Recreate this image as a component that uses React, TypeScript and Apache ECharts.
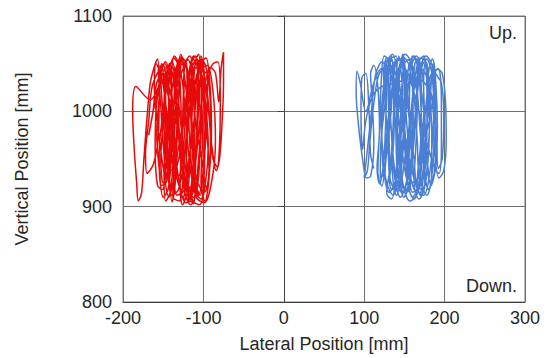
import React, { useEffect, useRef } from "react";
import * as echarts from "echarts";

const xTicks = [-200, 300, 100];
const yTicks = [800, 1100, 100];
const cornerLabels = ["Up.", "Down."];

const redPath: number[][] = [
  [-140,1005],[-152,1030],[-166,1012],[-184,1026],[-188,1000],[-186,960],[-183,925],[-181,906],[-177,914],[-174,950],[-170,995],[-166,1030],[-161,1047],[-157,1055],[-155,1020],[-156,975],[-162,945],[-170,935],[-172,955],[-168,990],[-164,1025],[-156,1042],[-148,1050],[-143,1020],[-145,975],[-149,935],[-147,906],[-141,916],[-137,960],[-134,1010],[-131,1046],[-127,1058],[-124,1030],[-126,975],[-129,925],[-126,902],[-119,920],[-116,965],[-113,1015],[-110,1052],[-106,1060],[-103,1030],[-101,975],[-103,925],[-98,906],[-93,930],[-90,985],[-92,1030],[-97,1056],[-106,1045],[-116,1005],[-123,955],[-131,918],[-139,912],[-145,945],[-150,995],[-153,1038],[-147,1052],[-140,1025],[-136,975],[-131,930],[-122,904],[-113,915],[-109,955],[-107,1005],[-101,1045],[-95,1048],[-88,1020],[-85,970],[-89,930],[-99,904],[-109,910],[-117,945],[-122,995],[-128,1040],[-137,1056],[-144,1038],[-151,995],[-155,955],[-153,922],[-146,926],[-141,965],[-137,1010],[-129,1036],[-119,1054],[-114,1028],[-115,980],[-119,935],[-125,908],[-119,908],[-111,938],[-105,985],[-99,1025],[-91,1046],[-85,1040],[-81,1010],[-78,1045],[-75,1062],[-75,1030],[-77,985],[-80,950],[-84,938],[-89,960],[-93,995],[-98,1030],[-104,1054],[-112,1045],[-121,1005],[-131,962],[-137,928],[-143,910],[-149,935],[-156,980],[-161,1025],[-159,1050],[-152,1036],[-145,995],[-139,952],[-133,912],[-127,915],[-123,960],[-117,1005],[-111,1046],[-103,1042],[-97,1005],[-94,965],[-97,928],[-105,902],[-113,906],[-121,932],[-127,978],[-133,1025],[-139,1052],[-145,1044],[-149,1005],[-148,962],[-141,938],[-133,942],[-125,985],[-119,1030],[-109,1054],[-101,1025],[-96,980],[-93,938],[-99,915],[-109,930],[-114,975],[-118,1020],[-124,1050],[-134,1046],[-141,1005],[-145,960],[-151,918],[-157,922],[-160,960],[-159,1000],[-154,1030],[-146,1046],[-138,1040],[-132,1000],[-128,955],[-124,918],[-116,902],[-108,918],[-104,960],[-102,1008],[-104,1048],[-112,1058],[-118,1040],[-122,1000],[-125,960],[-131,932],[-136,945],[-137,990],[-135,1035],[-130,1054],[-122,1048],[-116,1012],[-113,970],[-111,930],[-106,912],[-100,940],[-96,990],[-95,1035],[-100,1052],[-108,1035],[-111,995],[-112,955],[-117,920],[-124,925],[-130,970],[-140,1015],[-150,1040],[-158,1030],[-163,998],[-168,975],
  [-150,1040],[-146,990],[-143,940],[-139,905],[-135,925],[-133,975],[-130,1020],[-126,1055],[-121,1050],[-120,1000],[-121,950],[-118,910],[-112,903],[-110,940],[-108,990],[-106,1035],[-103,1058],[-99,1040],[-98,990],[-100,945],[-104,912],[-110,925],[-114,960],[-116,1000],[-120,1045],[-126,1056],[-130,1040],[-131,995],[-134,955],[-138,918],[-143,925],[-146,965],[-148,1010],[-152,1048],[-156,1045],[-153,1005],[-150,965],[-145,930],[-141,945],[-140,990],[-140,1035],[-136,1058],[-131,1050],[-128,1010],[-127,965],[-123,930],[-117,905],[-112,925],[-111,970],[-112,1015],[-115,1050],[-110,1058],[-105,1025],[-104,980],[-107,940],[-112,910],[-120,915],[-127,940],[-132,985],[-137,1030],[-142,1050],[-147,1030],[-150,990],[-153,950],[-150,925],[-144,940],[-142,980],[-143,1025],[-139,1047],[-134,1030],[-133,985],[-136,945],[-138,910],[-130,906],[-124,945],[-120,990],[-117,1035],[-113,1055],[-108,1048],[-106,1010],[-109,965],[-114,930],[-118,910],[-123,925],[-126,970],[-125,1015],[-123,1050],[-117,1058],[-112,1035],[-110,990],[-102,950],[-96,920],[-92,945],[-91,995],[-95,1040],[-102,1055],[-108,1020],[-113,980],[-119,945],[-126,915],[-133,930],[-139,970],[-143,1010],[-148,1045],[-152,1050],[-155,1015],[-158,975],[-155,940],[-150,910],[-144,918],[-140,950],[-137,1000],[-132,1045],[-128,1060],[-124,1040],[-119,1000],[-116,955],[-110,915],[-103,908],[-99,935],[-98,975],[-100,1020],[-104,1050],
  [-96,1040],[-88,1050],[-82,1052],[-79,1010],[-80,965],[-83,942],[-88,950],[-92,985],[-96,1025],[-102,1035]
];

const bluePath: number[][] = [
  [148,1000],[136,1035],[122,1045],[112,1030],[102,1000],[95,1030],[91,1042],[90,1020],[93,985],[98,950],[103,930],[108,932],[112,965],[110,1010],[108,1040],[112,1048],[117,1025],[119,980],[116,940],[119,924],[124,945],[127,995],[129,1040],[133,1058],[137,1035],[136,985],[132,940],[128,914],[134,908],[140,940],[142,990],[144,1040],[148,1060],[152,1025],[150,975],[146,930],[149,910],[156,922],[159,965],[161,1015],[163,1050],[168,1056],[171,1015],[170,965],[166,925],[170,912],[177,932],[181,980],[183,1025],[186,1050],[189,1030],[191,985],[189,942],[183,922],[178,955],[175,1000],[172,1042],[165,1058],[158,1045],[152,1000],[147,950],[141,918],[134,918],[130,955],[127,1000],[124,1042],[128,1056],[134,1035],[139,985],[141,940],[147,914],[155,922],[161,960],[165,1005],[169,1038],[175,1052],[179,1032],[181,988],[179,944],[173,918],[165,922],[159,955],[155,1005],[151,1045],[143,1056],[137,1040],[133,995],[127,950],[122,922],[117,935],[119,980],[121,1028],[125,1058],[132,1052],[140,1015],[146,968],[152,932],[160,910],[168,924],[173,962],[177,1008],[183,1038],[191,1044],[197,1040],[201,1012],[202,970],[199,938],[193,930],[188,955],[186,998],[181,1028],[171,1045],[161,1018],[157,972],[153,928],[145,910],[138,930],[134,975],[132,1018],[135,1048],[144,1054],[150,1032],[156,992],[162,950],[166,918],[174,912],[181,932],[185,972],[187,1012],[185,1046],[177,1058],[168,1038],[163,992],[159,946],[155,916],[147,922],[143,962],[140,1008],[145,1044],[155,1054],[164,1028],[170,982],[174,940],[169,914],[161,932],[151,972],[141,1018],[131,1046],[119,1040],[112,1008],[107,968],[104,938],[100,930],[104,960],[109,1000],[114,1038],[122,1052],[130,1030],[133,990],[137,945],[143,920],[152,915],[158,940],[161,985],[160,1030],[158,1055],[150,1050],[146,1010],[145,965],[148,925],[157,906],[165,912],[171,948],[174,995],[174,1038],[178,1055],[184,1040],[187,995],[186,950],[180,918],[176,930],[170,975],[166,1020],[160,1048],[151,1060],[143,1045],[138,1005],[136,960],[129,925],[124,935],[122,980],[125,1020],[130,1048],[139,1040],[145,1000],[152,958],[158,925],[167,930],[175,965],[180,1005],[184,1035],[192,1045],[196,1010],[196,965],[193,935],
  [150,1045],[146,1000],[142,955],[138,918],[132,930],[131,975],[130,1020],[133,1055],[140,1058],[141,1020],[140,975],[143,935],[150,918],[155,945],[156,990],[157,1035],[160,1058],[166,1048],[166,1005],[164,960],[162,925],[168,908],[175,920],[176,960],[179,1000],[180,1040],[185,1055],[188,1040],[183,1000],[176,970],[172,930],[165,915],[158,930],[154,975],[150,1020],[146,1055],[138,1052],[134,1015],[129,970],[125,935],[120,930],[121,970],[126,1010],[128,1050],[135,1060],[142,1040],[148,995],[151,955],[155,920],[162,908],[170,930],[172,970],[170,1015],[168,1052],[174,1058],[178,1020],[178,975],[175,935],[168,920],[160,945],[157,990],[152,1030],[148,1058],[155,1050],[162,1015],[166,970],[168,935],[178,912],[184,935],[184,980],[181,1020],[178,1050],[170,1056],[163,1035],[158,998],[152,960],[146,925],[140,912],[135,940],[136,985],[139,1030],[143,1058],[147,1030],[150,985],[155,945],[160,915],[167,920],[170,955],[171,1000],[168,1040],[162,1058],[154,1040],[149,1000],[144,960],[139,928],[131,915],[126,930],[128,975],[133,1015],[138,1048],[130,1055],[124,1025],[121,990],[124,950],[128,925],[136,912],[144,935],[148,970],[152,1010],[156,1050],[164,1055],[170,1030],[175,990],[178,950],[182,925],[187,935],[189,975],[188,1020],[184,1050],
  [190,1038],[196,1030],[199,995],[197,950],[192,940],[190,975],[185,1010],[175,1030],[160,1035],[140,1030],[120,1025],[110,1015],[102,990],[98,960],[96,1000],[97,1035],[102,1040],[106,1000],[108,955],[112,940]
];

const FONT = "Liberation Sans, Arial, sans-serif";
const TEXT = "#262626";

export default function App() {
  const ref = useRef<HTMLDivElement>(null);
  useEffect(() => {
    if (!ref.current) return;
    const chart = echarts.init(ref.current, null, { renderer: "svg" });
    chart.setOption({
      animation: false,
      backgroundColor: "#ffffff",
      grid: {
        left: 123,
        right: 23,
        top: 16,
        bottom: 55,
        show: true,
        borderColor: "#7a7a7a",
        borderWidth: 1,
      },
      xAxis: {
        type: "value",
        min: xTicks[0],
        max: xTicks[1],
        interval: xTicks[2],
        name: "Lateral Position [mm]",
        nameLocation: "middle",
        nameGap: 33,
        nameTextStyle: { fontFamily: FONT, fontSize: 18, color: TEXT },
        axisLine: { show: true, lineStyle: { color: "#404040", width: 1 } },
        axisTick: { show: false },
        axisLabel: { fontFamily: FONT, fontSize: 18, color: TEXT, margin: 7, formatter: (v: number) => String(v) },
        splitLine: { show: true, lineStyle: { color: "#6e6e6e", width: 1 } },
      },
      yAxis: {
        type: "value",
        min: yTicks[0],
        max: yTicks[1],
        interval: yTicks[2],
        name: "Vertical Position [mm]",
        nameLocation: "middle",
        nameGap: 92,
        nameTextStyle: { fontFamily: FONT, fontSize: 18, color: TEXT },
        axisLine: { show: true, lineStyle: { color: "#404040", width: 1 } },
        axisTick: { show: true, inside: false, length: 6, lineStyle: { color: "#404040" } },
        axisLabel: { fontFamily: FONT, fontSize: 18, color: TEXT, margin: 11, formatter: (v: number) => String(v) },
        splitLine: { show: true, lineStyle: { color: "#6e6e6e", width: 1 } },
      },
      graphic: [
        {
          type: "text",
          right: 31,
          top: 24,
          style: { text: cornerLabels[0], fontFamily: FONT, fontSize: 18, fill: TEXT },
        },
        {
          type: "text",
          right: 31,
          top: 277,
          style: { text: cornerLabels[1], fontFamily: FONT, fontSize: 18, fill: TEXT },
        },
      ],
      series: [
        {
          type: "line",
          data: redPath,
          showSymbol: false,
          smooth: 0.35,
          lineStyle: { color: "#e60a0a", width: 1.5 },
          z: 3,
        },
        {
          type: "line",
          data: bluePath,
          showSymbol: false,
          smooth: 0.35,
          lineStyle: { color: "#4a7fd4", width: 1.5 },
          z: 3,
        },
      ],
    });
    return () => chart.dispose();
  }, []);
  return (
    <div
      ref={ref}
      style={{ position: "fixed", left: 0, top: 0, width: 548, height: 358, background: "#fff" }}
    />
  );
}
